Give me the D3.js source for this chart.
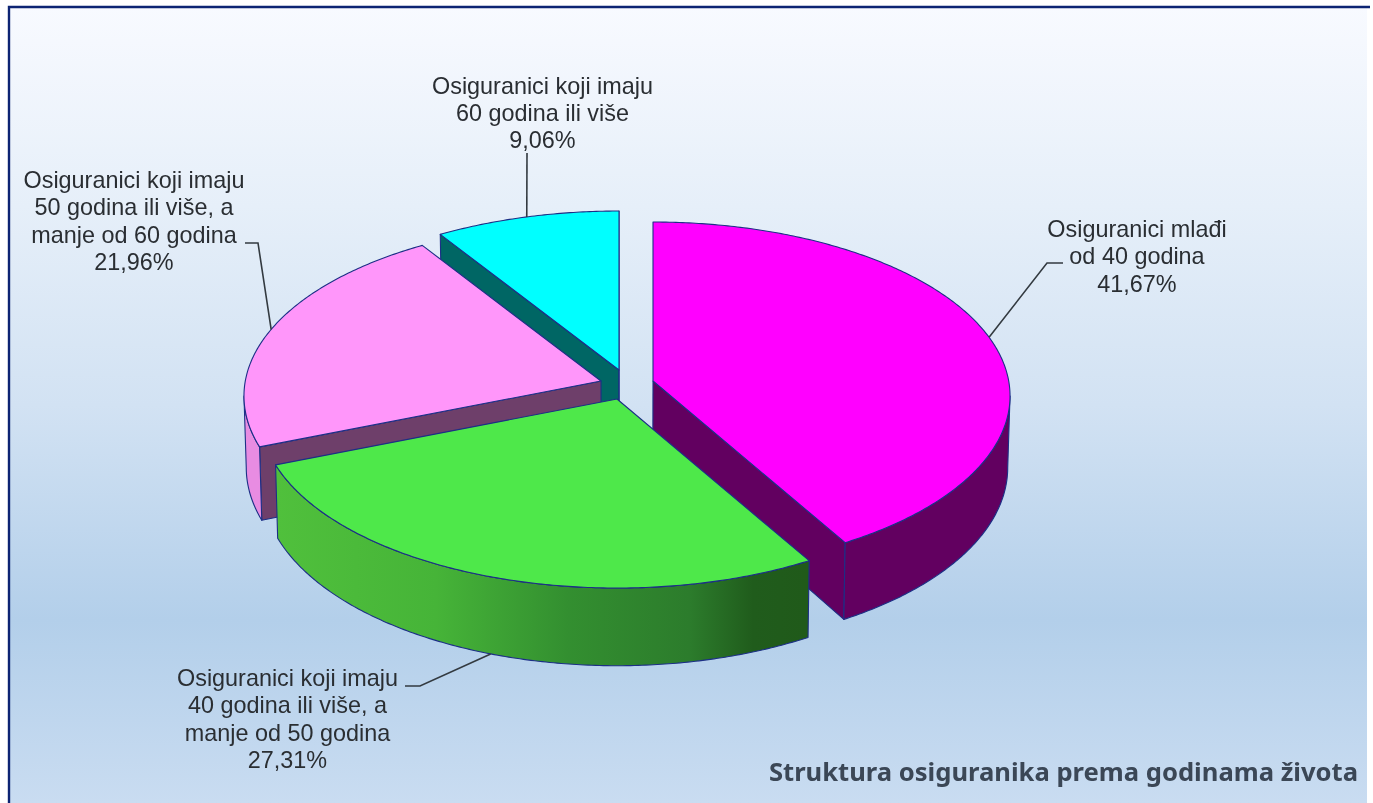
<!DOCTYPE html>
<html><head><meta charset="utf-8">
<script src="https://cdnjs.cloudflare.com/ajax/libs/d3/7.8.5/d3.min.js"></script>
<style>
html,body{margin:0;padding:0;background:#fff;overflow:hidden}
svg{display:block}
.lbl{font-family:"Liberation Sans",Arial,sans-serif;font-size:23.4px;fill:#2a2e33;text-anchor:middle;filter:url(#soft)}
.ttl{font-family:"Noto Sans",sans-serif;font-weight:700;font-size:25.6px;fill:#3b4757;text-anchor:end;filter:url(#soft)}
</style></head><body>
<svg id="c" width="1373" height="803"></svg>
<script>
// ---- data ----
const categories = ["mlađi","40-50","50-60","60+"];
const shares = [41.67, 27.31, 21.96, 9.06];
const labelLines = [
  ["Osiguranici mlađi","od 40 godina"],
  ["Osiguranici koji imaju","40 godina ili više, a","manje od 50 godina"],
  ["Osiguranici koji imaju","50 godina ili više, a","manje od 60 godina"],
  ["Osiguranici koji imaju","60 godina ili više"]
];
const chartTitle = "Struktura osiguranika prema godinama života";

// ---- styling / layout ----
const topColors  = ["#ff00ff","#4ee84a","#ff96fa","#00ffff"];
const wallColors = ["#620060","url(#greenWall)","#e88ce2","#006664"];
const cutColors  = ["#620060","#2a7a2a","#6e3f6a","#006664"];
const tips = [[653,381],[617,399],[601,381],[619,370]];   // exploded apex per slice
const labelCentres = [[1137,237],[287.5,686],[134,188],[542.5,93.5]];
const leaderKnee = [[[1047,263],[1063,263]],[[420,686],[405,686]],[[258,243],[245,243]],[[527,153]]];
const leaderOnBase = [false,true,false,false];

const A = 355.7, B = 172.7, K = 0.0863, DEPTH = 71, SHRINK = 0.994, VPX = 625;
const LH = 27.4;

const svg = d3.select("#c");
const defs = svg.append("defs");
defs.append("filter").attr("id","soft").append("feGaussianBlur").attr("stdDeviation",0.45);
const bg = defs.append("linearGradient").attr("id","bg").attr("x1",0).attr("x2",0).attr("y1",0).attr("y2",1);
[[0,"#f8faff"],[0.25,"#e6eff9"],[0.5,"#d2e2f3"],[0.77,"#b3cfea"],[1,"#c9dcf1"]]
  .forEach(s=>bg.append("stop").attr("offset",s[0]).attr("stop-color",s[1]));
const gw = defs.append("linearGradient").attr("id","greenWall").attr("gradientUnits","userSpaceOnUse")
  .attr("x1",277).attr("x2",806).attr("y1",0).attr("y2",0);
[[0,"#50c03c"],[0.3,"#46b438"],[0.55,"#338f30"],[0.78,"#2c7c2c"],[0.9,"#205c1c"],[1,"#205a1a"]]
  .forEach(s=>gw.append("stop").attr("offset",s[0]).attr("stop-color",s[1]));

// panel
svg.append("rect").attr("x",8).attr("y",7).attr("width",1359).attr("height",796).attr("fill","url(#bg)");
svg.append("path").attr("d","M9 803V7H1370").attr("fill","none").attr("stroke","#0d2473").attr("stroke-width",2.4);

// ---- geometry ----
const arcs = d3.pie().sort(null).value(d=>d)(shares);
const project = (tip,a,r,drop) => {
  const u = r*Math.sin(a), v = -r*Math.cos(a), w = 1-K*v;
  let x = tip[0]+A*u/w, y = tip[1]+B*v/w;
  if (drop) { x = VPX+(x-VPX)*SHRINK; y += DEPTH/w; }
  return [x,y];
};
const line = d3.line();
const sweep = (a0,a1) => { const n = Math.max(2,Math.ceil((a1-a0)/0.01)); return d3.range(n+1).map(i=>a0+(a1-a0)*i/n); };
const SIL = Math.acos(-K);
const STROKE = "#1c2f86";

const order = [3,2,0,1];
order.forEach(i=>{
  const d = arcs[i], tip = tips[i], a0 = d.startAngle, a1 = d.endAngle;
  const g = svg.append("g");
  const face = (pts,fill)=>g.append("path").attr("d",line(pts)+"Z").attr("fill",fill)
      .attr("stroke",STROKE).attr("stroke-width",1.1).attr("stroke-linejoin","round");
  // cut faces
  [[a0,Math.sin(a0)<0],[a1,Math.sin(a1)>0]].forEach(([a,vis])=>{
    if(!vis) return;
    face([project(tip,a,0,false),project(tip,a,1,false),project(tip,a,1,true),project(tip,a,0,true)],cutColors[i]);
  });
  // rim
  const r0 = Math.max(a0,SIL), r1 = Math.min(a1,2*Math.PI-SIL);
  if(r1>r0){
    const s = sweep(r0,r1);
    face(s.map(a=>project(tip,a,1,false)).concat(s.slice().reverse().map(a=>project(tip,a,1,true))),wallColors[i]);
  }
  // top
  face([project(tip,a0,0,false)].concat(sweep(a0,a1).map(a=>project(tip,a,1,false))),topColors[i]);
});

// leaders
order.forEach(i=>{
  const mid = (arcs[i].startAngle+arcs[i].endAngle)/2;
  const pts = [project(tips[i],mid,1,leaderOnBase[i])].concat(leaderKnee[i]);
  svg.append("path").attr("d",line(pts)).attr("fill","none").attr("stroke","#333a40").attr("stroke-width",1.6);
});

// labels
const pct = d3.format(".2f");
shares.forEach((v,i)=>{
  const t = svg.append("text").attr("class","lbl");
  labelLines[i].concat(pct(v).replace(".",",")+"%").forEach((s,j)=>{
    t.append("tspan").attr("x",labelCentres[i][0]).attr("y",labelCentres[i][1]+j*LH).text(s);
  });
});
svg.append("text").attr("class","ttl").attr("x",1358).attr("y",781).text(chartTitle);
</script>
</body></html>
